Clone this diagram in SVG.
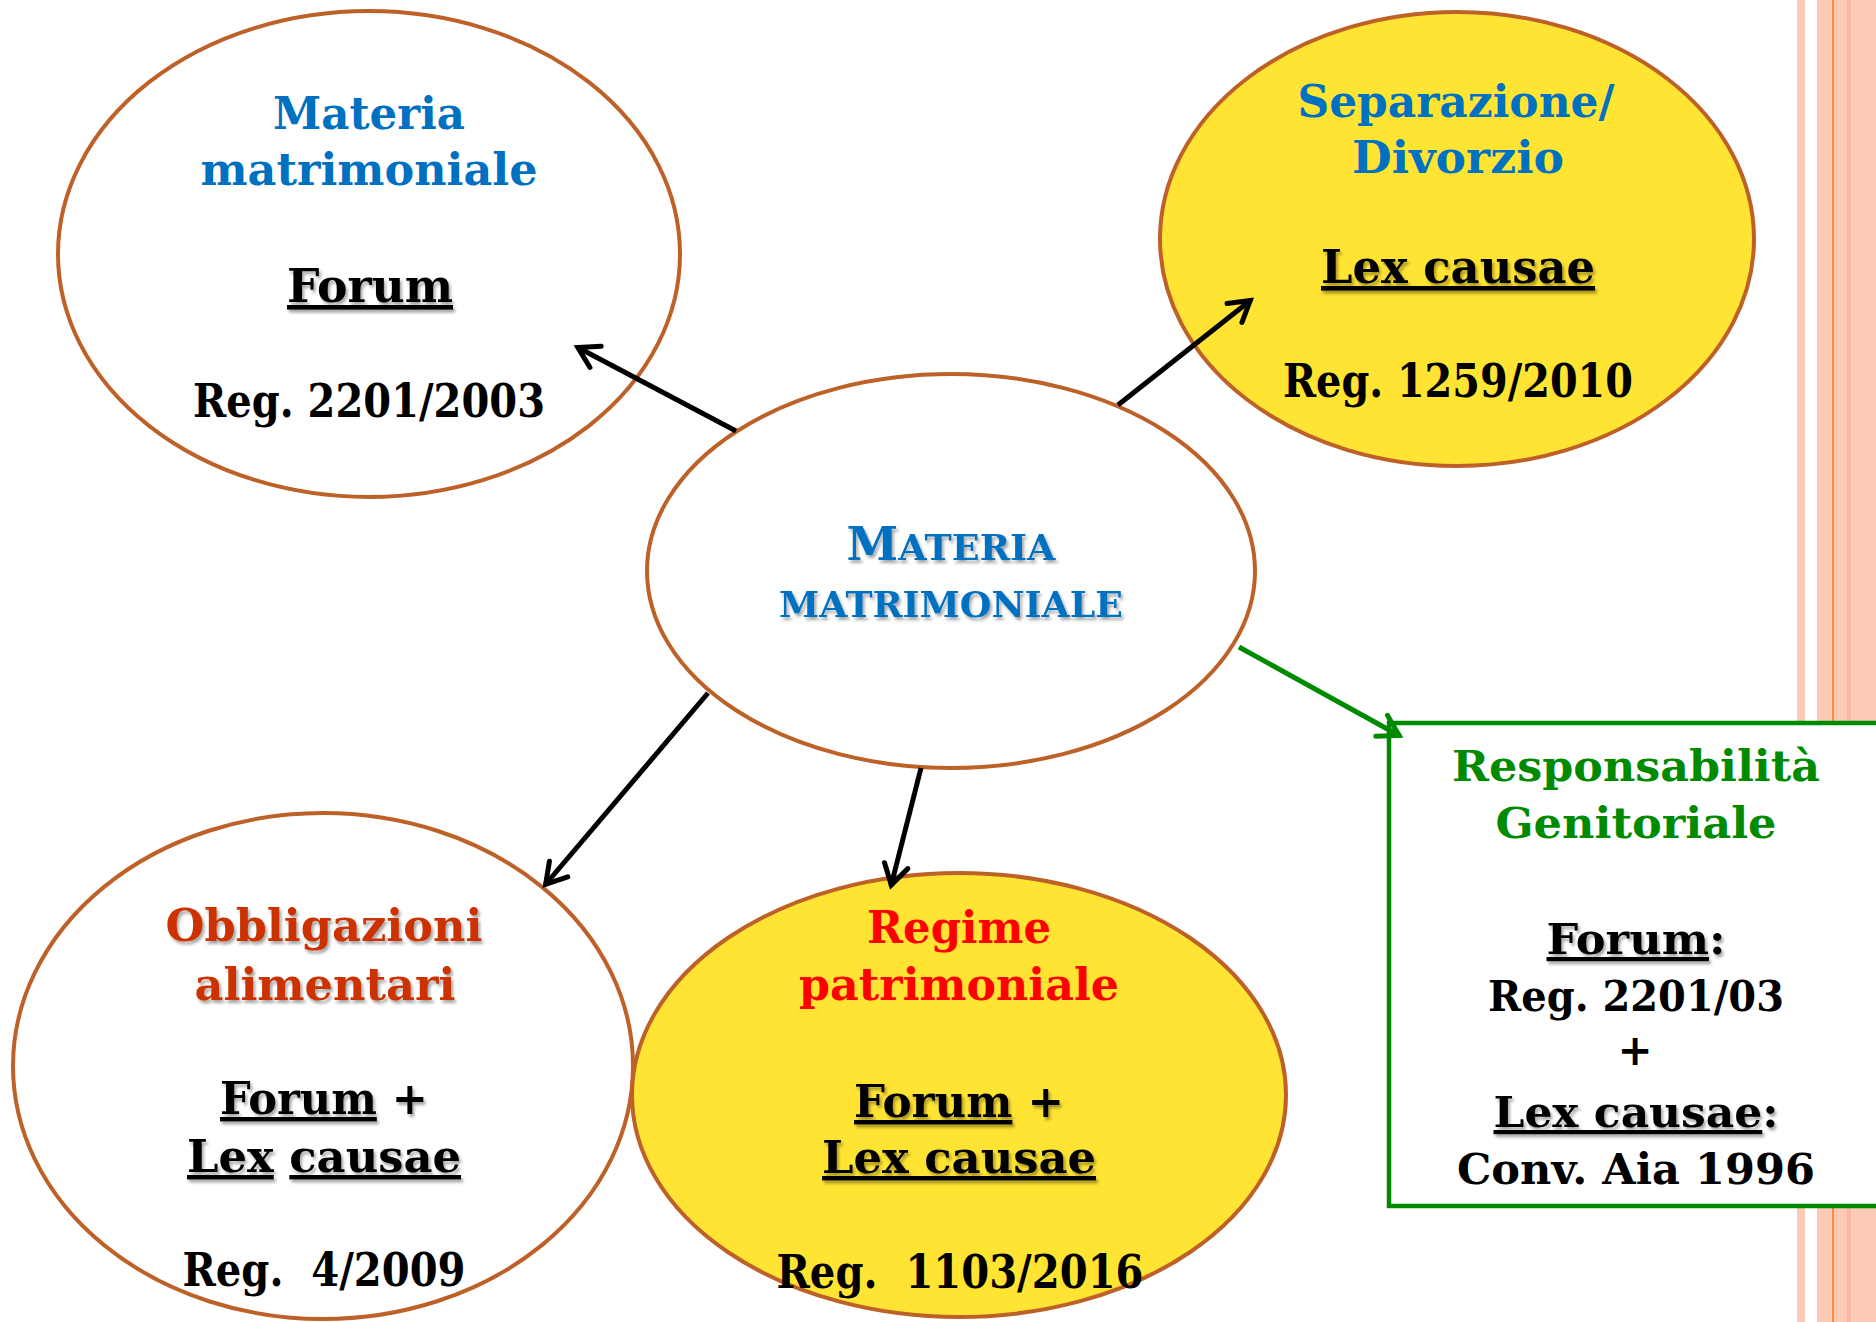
<svg xmlns="http://www.w3.org/2000/svg" width="1876" height="1322" viewBox="0 0 1876 1322">
<style>
text{font-family:"DejaVu Serif","Liberation Serif",serif;font-weight:bold;text-anchor:middle;}
.node{stroke:#BE6128;stroke-width:4;}
.w{fill:#fff;}
.y{fill:#FFE433;}
.blue{fill:#0070C0;}
.blk{fill:#000;}
.org{fill:#CC3300;}
.red{fill:#FF0000;}
.grn{fill:#008A00;}
.u{text-decoration:underline;}
.sh{filter:url(#sh);}
.con{stroke:#000;stroke-width:5;fill:none;}
</style>
<defs>
<filter id="sh" x="-10%" y="-30%" width="130%" height="170%">
<feDropShadow dx="2" dy="3" stdDeviation="1.5" flood-color="#000" flood-opacity="0.35"/>
</filter>
<marker id="ah" markerUnits="userSpaceOnUse" orient="auto" refX="0" refY="0" markerWidth="40" markerHeight="40" overflow="visible">
<path d="M-21,-12 L-1,0 L-21,12" fill="none" stroke="#000" stroke-width="5" stroke-linecap="round"/>
</marker>
<marker id="ahg" markerUnits="userSpaceOnUse" orient="auto" refX="0" refY="0" markerWidth="40" markerHeight="40" overflow="visible">
<path d="M-21,-12 L-1,0 L-21,12" fill="none" stroke="#008A00" stroke-width="5" stroke-linecap="round"/>
</marker>
</defs>
<rect width="1876" height="1322" fill="#fff"/>
<g id="border">
<rect x="1797" y="0" width="8" height="1322" fill="#FCCAB5"/>
<rect x="1817" y="0" width="59" height="1322" fill="#FCCAB5"/>
<rect x="1847" y="0" width="4" height="1322" fill="#FBBA9E"/>
<rect x="1832" y="0" width="2" height="1322" fill="#FF8A3A"/>
</g>
<g id="node-tl">
<ellipse class="node w" cx="369" cy="254" rx="311" ry="243"/>
<text class="blue" x="369" y="129" font-size="45" textLength="192" lengthAdjust="spacingAndGlyphs">Materia</text>
<text class="blue" x="369" y="185" font-size="45" textLength="337" lengthAdjust="spacingAndGlyphs">matrimoniale</text>
<text class="blk u sh" x="370" y="302" font-size="46" textLength="166" lengthAdjust="spacingAndGlyphs">Forum</text>
<text class="blk" x="369" y="417" font-size="46" textLength="352" lengthAdjust="spacingAndGlyphs">Reg. 2201/2003</text>
</g>
<g id="node-tr">
<ellipse class="node y" cx="1457" cy="239" rx="297" ry="227"/>
<text class="blue" x="1456" y="117" font-size="45" textLength="317" lengthAdjust="spacingAndGlyphs">Separazione/</text>
<text class="blue" x="1458" y="173" font-size="45" textLength="212" lengthAdjust="spacingAndGlyphs">Divorzio</text>
<text class="blk u sh" x="1458" y="283" font-size="46" textLength="274" lengthAdjust="spacingAndGlyphs">Lex causae</text>
<text class="blk" x="1458" y="397" font-size="46" textLength="350" lengthAdjust="spacingAndGlyphs">Reg. 1259/2010</text>
</g>
<g id="node-center">
<ellipse class="node w" cx="951" cy="571" rx="304" ry="197"/>
<text class="blue sh" x="951" y="560" font-size="36" textLength="209" lengthAdjust="spacingAndGlyphs"><tspan font-size="46">M</tspan>ATERIA</text>
<text class="blue sh" x="951" y="617" font-size="36" textLength="344" lengthAdjust="spacingAndGlyphs">MATRIMONIALE</text>
</g>
<g id="node-bl">
<ellipse class="node w" cx="323" cy="1066" rx="310" ry="253"/>
<text class="org sh" x="324" y="941" font-size="45" textLength="317" lengthAdjust="spacingAndGlyphs">Obbligazioni</text>
<text class="org sh" x="325" y="1000" font-size="45" textLength="261" lengthAdjust="spacingAndGlyphs">alimentari</text>
<text class="blk sh" x="324" y="1114" font-size="44" textLength="208" lengthAdjust="spacingAndGlyphs"><tspan class="u">Forum</tspan> +</text>
<text class="blk sh" x="324" y="1172" font-size="44" textLength="274" lengthAdjust="spacingAndGlyphs"><tspan class="u">Lex</tspan> <tspan class="u">causae</tspan></text>
<text class="blk" x="324" y="1286" font-size="46" textLength="283" lengthAdjust="spacingAndGlyphs">Reg.&#160; 4/2009</text>
</g>
<g id="node-bm">
<ellipse class="node y" cx="959" cy="1095" rx="327" ry="222"/>
<text class="red" x="959" y="943" font-size="45" textLength="184" lengthAdjust="spacingAndGlyphs">Regime</text>
<text class="red" x="959" y="1000" font-size="45" textLength="320" lengthAdjust="spacingAndGlyphs">patrimoniale</text>
<text class="blk sh" x="959" y="1117" font-size="44" textLength="210" lengthAdjust="spacingAndGlyphs"><tspan class="u">Forum</tspan> +</text>
<text class="blk u sh" x="959" y="1173" font-size="44" textLength="274" lengthAdjust="spacingAndGlyphs">Lex causae</text>
<text class="blk" x="960" y="1288" font-size="46" textLength="367" lengthAdjust="spacingAndGlyphs">Reg.&#160; 1103/2016</text>
</g>
<g id="node-box">
<rect x="1389" y="723" width="600" height="483" fill="#fff" stroke="#008A00" stroke-width="4.5"/>
<text class="grn" x="1636" y="781" font-size="42" textLength="368" lengthAdjust="spacingAndGlyphs">Responsabilità</text>
<text class="grn" x="1636" y="838" font-size="42" textLength="281" lengthAdjust="spacingAndGlyphs">Genitoriale</text>
<text class="blk sh" x="1636" y="954" font-size="42" textLength="179" lengthAdjust="spacingAndGlyphs"><tspan class="u">Forum</tspan>:</text>
<text class="blk" x="1636" y="1011" font-size="42" textLength="296" lengthAdjust="spacingAndGlyphs">Reg. 2201/03</text>
<text class="blk" x="1635" y="1065" font-size="42">+</text>
<text class="blk sh" x="1636" y="1127" font-size="42" textLength="285" lengthAdjust="spacingAndGlyphs"><tspan class="u">Lex causae</tspan>:</text>
<text class="blk" x="1636" y="1184" font-size="42" textLength="358" lengthAdjust="spacingAndGlyphs">Conv. Aia 1996</text>
</g>
<g id="connectors">
<line class="con" x1="736" y1="431" x2="577" y2="347" marker-end="url(#ah)"/>
<line class="con" x1="1118" y1="405" x2="1251" y2="300" marker-end="url(#ah)"/>
<line class="con" x1="708" y1="693" x2="545" y2="885" marker-end="url(#ah)"/>
<line class="con" x1="921" y1="768" x2="891" y2="886" marker-end="url(#ah)"/>
<line class="con" x1="1239" y1="647" x2="1400" y2="736" style="stroke:#008A00" marker-end="url(#ahg)"/>
</g>
</svg>
